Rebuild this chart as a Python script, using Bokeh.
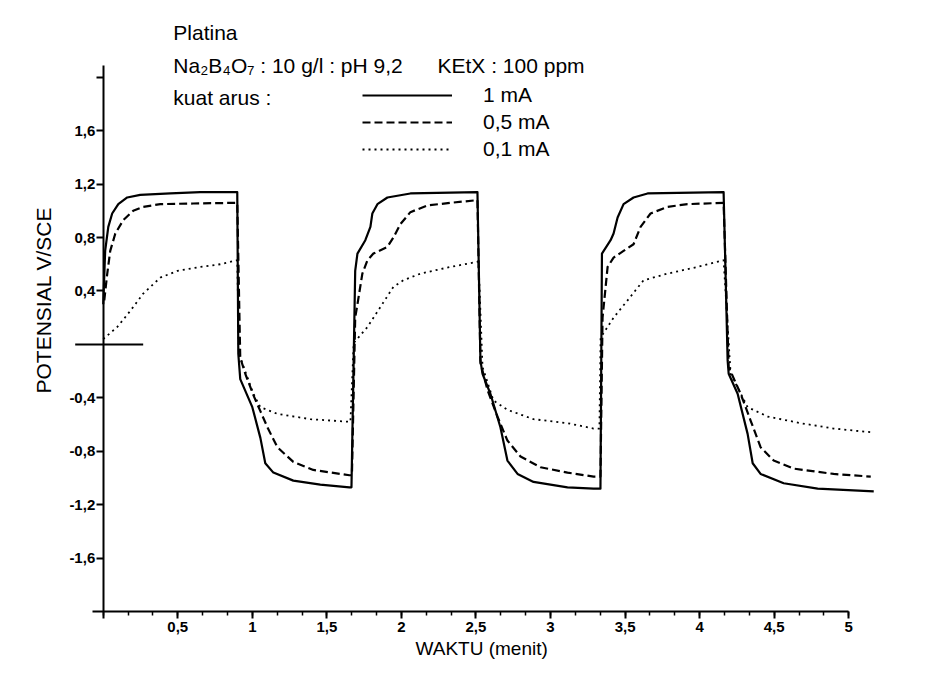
from bokeh.plotting import figure
from bokeh.models import LinearAxis, FixedTicker, Legend, LegendItem, ColumnDataSource, Title
from bokeh.core.properties import value
from bokeh.embed import file_html
from bokeh.resources import INLINE

# ---------------- data ----------------
# 1 mA (solid)
t_1mA = [0.0, 0.013, 0.034, 0.060, 0.101, 0.161, 0.248, 0.450, 0.651, 0.899,
         0.906, 0.919, 1.000, 1.054, 1.087, 1.141, 1.275, 1.456, 1.651,
         1.665, 1.690, 1.705, 1.758, 1.792, 1.805, 1.839, 1.906, 2.060, 2.510,
         2.530, 2.544, 2.597, 2.664, 2.711, 2.779, 2.886, 3.114, 3.289,
         3.335, 3.345, 3.403, 3.423, 3.450, 3.490, 3.557, 3.651, 4.161,
         4.188, 4.195, 4.255, 4.322, 4.356, 4.409, 4.564, 4.792, 5.168]
v_1mA = [0.30, 0.70, 0.88, 0.98, 1.05, 1.10, 1.12, 1.13, 1.14, 1.14,
         -0.07, -0.26, -0.47, -0.70, -0.89, -0.96, -1.02, -1.05, -1.07,
         -1.07, 0.55, 0.68, 0.78, 0.88, 0.98, 1.05, 1.10, 1.13, 1.14,
         -0.12, -0.22, -0.37, -0.62, -0.87, -0.97, -1.03, -1.07, -1.08,
         -1.08, 0.68, 0.78, 0.83, 0.95, 1.05, 1.10, 1.13, 1.14,
         -0.12, -0.22, -0.37, -0.67, -0.89, -0.97, -1.04, -1.08, -1.10]

# 0,5 mA (dashed)
t_05mA = [0.007, 0.027, 0.047, 0.081, 0.134, 0.201, 0.268, 0.383, 0.604, 0.899,
          0.919, 0.953, 1.007, 1.054, 1.101, 1.168, 1.275, 1.409, 1.651,
          1.668, 1.690, 1.705, 1.738, 1.772, 1.812, 1.906, 1.946, 1.993, 2.060, 2.174, 2.329, 2.510,
          2.530, 2.577, 2.644, 2.711, 2.799, 2.933, 3.114, 3.289,
          3.335, 3.349, 3.383, 3.423, 3.490, 3.557, 3.604, 3.671, 3.785, 3.919, 4.161,
          4.195, 4.275, 4.342, 4.409, 4.497, 4.631, 4.899, 5.148]
v_05mA = [0.33, 0.53, 0.70, 0.83, 0.93, 1.00, 1.03, 1.05, 1.055, 1.06,
          -0.10, -0.22, -0.38, -0.50, -0.62, -0.77, -0.88, -0.94, -0.98,
          -0.98, 0.20, 0.30, 0.53, 0.63, 0.68, 0.73, 0.80, 0.90, 0.99, 1.04, 1.06, 1.08,
          -0.14, -0.34, -0.54, -0.72, -0.84, -0.92, -0.96, -0.99,
          -0.99, 0.20, 0.58, 0.65, 0.70, 0.75, 0.88, 0.98, 1.03, 1.05, 1.06,
          -0.17, -0.37, -0.57, -0.77, -0.87, -0.93, -0.97, -0.99]

# 0,1 mA (dotted)
t_01mA = [0.0, 0.094, 0.181, 0.268, 0.383, 0.497, 0.651, 0.785, 0.899,
          0.910, 1.007, 1.054, 1.168, 1.389, 1.658,
          1.680, 1.772, 1.859, 1.946, 2.013, 2.128, 2.329, 2.517,
          2.544, 2.617, 2.711, 2.886, 3.114, 3.289, 3.328,
          3.336, 3.423, 3.517, 3.624, 3.785, 3.987, 4.161,
          4.208, 4.322, 4.456, 4.678, 4.899, 5.168]
v_01mA = [0.04, 0.13, 0.25, 0.38, 0.50, 0.55, 0.58, 0.60, 0.63,
          -0.07, -0.37, -0.47, -0.52, -0.56, -0.58,
          0.01, 0.13, 0.28, 0.43, 0.48, 0.53, 0.58, 0.62,
          -0.17, -0.42, -0.49, -0.56, -0.59, -0.63, -0.63,
          0.05, 0.20, 0.33, 0.48, 0.53, 0.58, 0.63,
          -0.22, -0.47, -0.54, -0.59, -0.63, -0.66]

# reference line at 0 V
zero_x = [-0.188, 0.268]
zero_y = [0.0, 0.0]

series_labels = ["1 mA", "0,5 mA", "0,1 mA"]

x_ticks = [0.0, 0.5, 1.0, 1.5, 2.0, 2.5, 3.0, 3.5, 4.0, 4.5, 5.0]
x_tick_labels = ["", "0,5", "1", "1,5", "2", "2,5", "3", "3,5", "4", "4,5", "5"]
y_ticks = [-1.6, -1.2, -0.8, -0.4, 0.4, 0.8, 1.2, 1.6, 2.0]
y_tick_labels = ["-1,6", "-1,2", "-0,8", "-0,4", "0,4", "0,8", "1,2", "1,6", ""]

title_lines = ["Platina", "Na\u2082B\u2084O\u2087 : 10 g/l : pH 9,2", "kuat arus :"]
kextx_text = "KEtX : 100 ppm"
x_title = "WAKTU (menit)"
y_title = "POTENSIAL  V/SCE"

# ---------------- figure ----------------
FONT = "Liberation Sans"
FRAME_BOTTOM = 611  # canvas px of the frame's bottom edge
FRAME_LEFT = 58
p = figure(frame_width=823, frame_height=601,
           x_range=(-0.3, 5.22), y_range=(-2.0, 2.5),
           min_border_left=FRAME_LEFT, min_border_right=47, min_border_top=10, min_border_bottom=76,
           x_axis_location=None, y_axis_location=None,
           output_backend="svg", toolbar_location=None)
p.outline_line_color = None
p.xgrid.visible = False
p.ygrid.visible = False
p.background_fill_color = "white"
p.border_fill_color = "white"

def style_axis(ax):
    ax.axis_line_color = "black"
    ax.axis_line_width = 2
    ax.major_tick_line_color = "black"
    ax.major_tick_line_width = 2
    ax.major_tick_in = 0
    ax.major_tick_out = 7
    ax.minor_tick_line_color = "black"
    ax.minor_tick_line_width = 1.5
    ax.minor_tick_in = 0
    ax.minor_tick_out = 4
    ax.major_label_text_font = FONT
    ax.major_label_text_font_style = "bold"
    ax.major_label_text_font_size = "15px"
    ax.major_label_text_color = "black"
    ax.major_label_standoff = 3

# x axis (bottom edge = -2 V)
x_minor = [i / 6 for i in range(0, 31)]
xaxis = LinearAxis(bounds=(-0.074, 5.0),
                   ticker=FixedTicker(ticks=x_ticks, minor_ticks=x_minor),
                   major_label_overrides=dict(zip(x_ticks, x_tick_labels)))
style_axis(xaxis)
p.add_layout(xaxis, "below")

# y axis (drawn at t = 0)
yaxis = LinearAxis(fixed_location=0.0, bounds=(-2.0, 2.09),
                   ticker=FixedTicker(ticks=y_ticks, minor_ticks=[]),
                   major_label_overrides=dict(zip(y_ticks, y_tick_labels)))
style_axis(yaxis)
yaxis.major_label_standoff = 1
p.add_layout(yaxis, "left")

# axis titles
p.add_layout(Title(text=x_title, align="left", offset=415 - FRAME_LEFT, standoff=2,
                   text_font=FONT, text_font_size="19px", text_font_style="normal",
                   text_color="black"), "below")
p.add_layout(Title(text=y_title, align="left", offset=FRAME_BOTTOM - 393, standoff=8,
                   text_font=FONT, text_font_size="21px", text_font_style="normal",
                   text_color="black"), "left")

# reference line
p.line(zero_x, zero_y, line_color="black", line_width=2)

# curves
r1 = p.line(t_1mA, v_1mA, line_color="black", line_width=2.2, line_join="round")
r2 = p.line(t_05mA, v_05mA, line_color="black", line_width=2.2, line_dash="8 4", line_join="round")
r3 = p.line(t_01mA, v_01mA, line_color="black", line_width=1.8, line_dash="2 4", line_join="round")

# header texts
src = ColumnDataSource(dict(x=[0.470, 0.470, 0.470, 2.242],
                            y=[2.335, 2.088, 1.848, 2.088],
                            t=title_lines + [kextx_text]))
p.text(x="x", y="y", text="t", source=src, text_font=value(FONT),
       text_font_size="21px", text_color="black", text_baseline="middle", text_align="left")

legend = Legend(items=[LegendItem(label=series_labels[0], renderers=[r1]),
                       LegendItem(label=series_labels[1], renderers=[r2]),
                       LegendItem(label=series_labels[2], renderers=[r3])],
                location=(362 - FRAME_LEFT, FRAME_BOTTOM - 161), orientation="vertical")
legend.label_text_font = FONT
legend.label_text_font_size = "21px"
legend.label_text_color = "black"
legend.glyph_width = 90
legend.glyph_height = 20
legend.label_height = 20
legend.spacing = 3
legend.padding = 0
legend.margin = 0
legend.label_standoff = 31
legend.border_line_color = None
legend.background_fill_alpha = 0
p.add_layout(legend)

open("out.html", "w").write(file_html(p, INLINE))
